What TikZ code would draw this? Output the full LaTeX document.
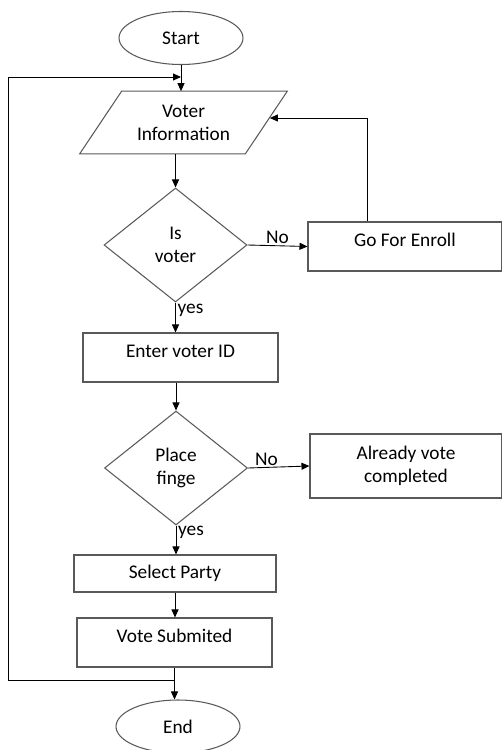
\documentclass[tikz,border=0pt]{standalone}
\usepackage{fontspec}
\setmainfont{Carlito}
\usetikzlibrary{
    arrows.meta,
    shapes.geometric
}
\tikzset{
    shapeline/.style={draw=black!65, line width=0.6pt},
    terminal/.style={shapeline, ellipse, minimum width=2.48cm, minimum height=1.06cm, inner sep=0pt},
    inout/.style={rectangle, minimum width=4.14cm, minimum height=1.24cm, align=center, inner sep=0pt},
    decision/.style={shapeline, diamond, minimum width=2.86cm, minimum height=2.28cm, align=center, inner sep=0pt},
    process/.style={shapeline, rectangle, minimum width=3.9cm, inner sep=0pt, align=center},
    tallbox/.style={process, text height=0.49cm, text depth=0.49cm},
    flow/.style={draw=black, line width=0.5pt, -{Triangle[length=0.16cm, width=0.14cm]}},
    lbl/.style={inner sep=1pt}
}

\begin{document}
\begin{tikzpicture}[x=0.02cm, y=-0.02cm, font=\fontsize{11}{13}\selectfont]
        \useasboundingbox (0,0) rectangle (502,750);

        \draw (181,38) node[terminal](start){Start};
        \draw (183.5,122.5) node[inout](info){Voter\\Information};
        \draw (175.5,245) node[decision](isvoter){Is\\voter};
        \draw (405,246.5) node[tallbox, minimum width=3.88cm](enroll){Go For Enroll};
        \draw (180.5,357.5) node[tallbox](voterid){Enter voter ID};
        \draw (176,468) node[decision](place){Place\\finge};
        \draw (406,466) node[process, minimum width=3.84cm, minimum height=1.28cm](done){Already vote\\completed};
        \draw (175,573.5) node[process, minimum width=4.04cm, minimum height=0.74cm](party){Select Party};
        \draw (174.5,642.5) node[tallbox](vote){Vote Submited};
        \draw (178,726.5) node[terminal](finish){End};

        % slanted outline of the input box
        \draw[shapeline] ([xshift=0.84cm]info.north west) -- (info.north east)
            -- ([xshift=-0.84cm]info.south east) -- (info.south west) -- cycle;

        % return path on the left
        \coordinate (join) at (vote.south |- 0,680);
        \coordinate (merge) at (start.south |- 0,77);
        \coordinate (rail) at (8,0);

        \draw[flow] (start.south) -- (start.south |- info.north);
        \draw[flow] (join) -- (rail |- join) -- (rail |- merge) -- (merge);
        \draw[flow] (isvoter.north |- info.south) -- (isvoter.north);
        \draw[flow] (isvoter.east) to node[lbl, above]{No} (enroll.west);
        \draw[flow] ([xshift=-0.76cm]enroll.north) |- ([xshift=-0.35cm, yshift=0.09cm]info.east);
        \draw[flow] (isvoter.south) to node[lbl, right, pos=0.25]{yes} (voterid.north -| isvoter.south);
        \draw[flow] (voterid.south -| place.north) -- (place.north);
        \draw[flow] (place.east) to node[lbl, above, pos=0.3]{No} (done.west);
        \draw[flow] (place.south) to node[lbl, right, pos=0.25]{yes} (party.north -| place.south);
        \draw[flow] (party.south) -- (vote.north -| party.south);
        \draw[flow] (vote.south) -- (finish.north -| vote.south);
    \end{tikzpicture}
\end{document}
